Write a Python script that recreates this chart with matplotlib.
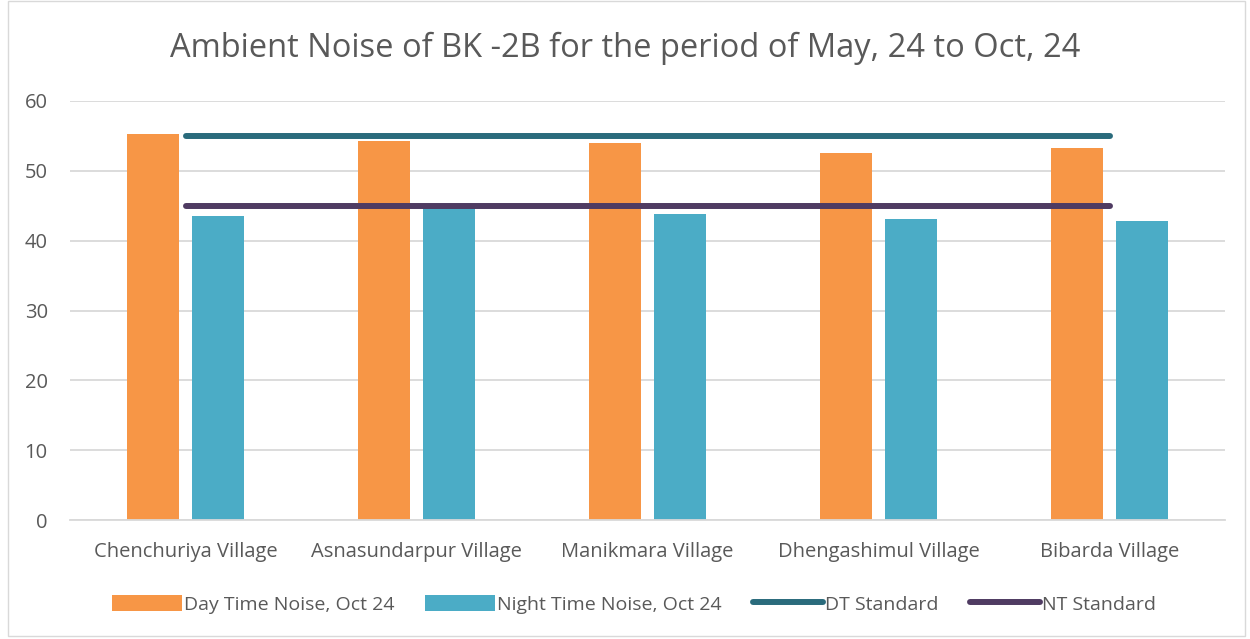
import matplotlib
matplotlib.use("Agg")
import matplotlib.pyplot as plt
import numpy as np
from matplotlib.patches import Rectangle

categories = ["Chenchuriya Village", "Asnasundarpur Village", "Manikmara Village",
              "Dhengashimul Village", "Bibarda Village"]
day_noise = [55.2, 54.3, 54.0, 52.5, 53.3]
night_noise = [43.5, 44.7, 43.8, 43.1, 42.8]
dt_standard = [55, 55, 55, 55, 55]
nt_standard = [45, 45, 45, 45, 45]
yticks = [0, 10, 20, 30, 40, 50, 60]

plt.rcParams['font.family'] = ['Open Sans', 'DejaVu Sans']

fig = plt.figure(figsize=(12.5, 6.39), dpi=100)
ax = fig.add_axes([0.056, 0.186, 0.924, 0.656])

x = np.arange(len(categories))
w = 0.225
off = 0.14
ax.bar(x - off, day_noise, w, color="#F79646", label="Day Time Noise, Oct 24", zorder=2)
ax.bar(x + off, night_noise, w, color="#4BACC6", label="Night Time Noise, Oct 24", zorder=2)
ax.plot(x, dt_standard, color="#2A6B7C", lw=4.3, solid_capstyle="round", label="DT Standard", zorder=3)
ax.plot(x, nt_standard, color="#4F3B62", lw=4.3, solid_capstyle="round", label="NT Standard", zorder=3)

ax.set_xlim(-0.5, len(categories) - 0.5)
ax.set_ylim(0, 60)
ax.set_yticks(yticks)
ax.yaxis.grid(True, color="#D9D9D9", lw=1.3, zorder=0)
ax.set_axisbelow(True)
for s in ["top", "right", "left"]:
    ax.spines[s].set_visible(False)
ax.spines["bottom"].set_color("#D9D9D9")
ax.spines["bottom"].set_linewidth(1.3)
ax.tick_params(axis="both", length=0, labelsize=14.5, colors="#595959")
ax.tick_params(axis="y", pad=16)
ax.tick_params(axis="x", pad=16)
ax.set_xticks(x)
ax.set_xticklabels(categories, fontsize=14.5)

fig.text(0.5, 0.925, "Ambient Noise of BK -2B for the period of May, 24 to Oct, 24",
         ha="center", va="center", fontsize=23.5, color="#595959")

handles, labels = ax.get_legend_handles_labels()
hmap = dict(zip(labels, handles))
order = ["Day Time Noise, Oct 24", "Night Time Noise, Oct 24", "DT Standard", "NT Standard"]
leg = fig.legend([hmap[k] for k in order], order, loc="center", bbox_to_anchor=(0.507, 0.054), ncol=4,
                 frameon=False, fontsize=14, labelcolor="#595959",
                 handlelength=3.6, handleheight=0.9, handletextpad=0.1, columnspacing=1.6)

fig.patches.append(Rectangle((0.006, 0.004), 0.99, 0.994, transform=fig.transFigure,
                             fill=False, edgecolor="#D9D9D9", lw=1.0))

fig.savefig("out.png", dpi=100)
